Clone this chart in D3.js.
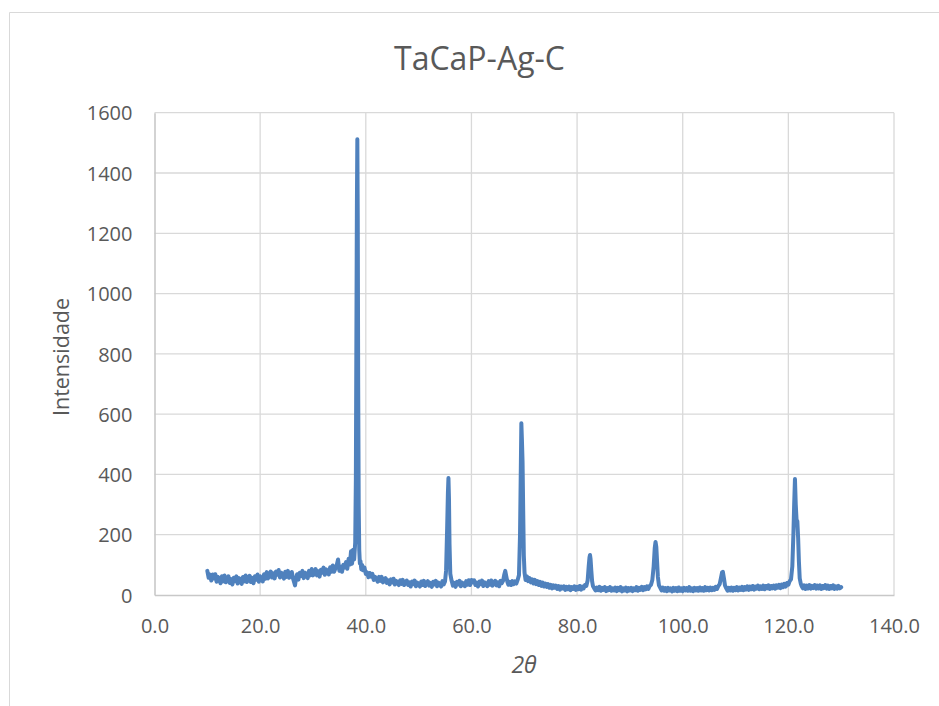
<!DOCTYPE html>
<html>
<head>
<meta charset="utf-8">
<script src="https://cdn.jsdelivr.net/npm/d3@7"></script>
<style>
  html, body { margin: 0; padding: 0; background: #fff; }
  svg { display: block; }
</style>
</head>
<body>
<svg id="chart" width="939" height="706"></svg>
<script>
// dados
const chartTitle = "TaCaP-Ag-C";
const xLabel = "2θ";
const yLabel = "Intensidade";
const xTicks = [0, 20, 40, 60, 80, 100, 120, 140];
const yTicks = [0, 200, 400, 600, 800, 1000, 1200, 1400, 1600];

// [2theta, intensidade]
const scan = [
  [10.00, 80], [10.25, 57], [10.50, 68], [10.75, 48], [11.00, 68], [11.25, 55], [11.50, 69], [11.75, 44],
  [12.00, 60], [12.25, 52], [12.50, 39], [12.75, 62], [13.00, 45], [13.25, 65], [13.50, 42], [13.75, 52],
  [14.00, 62], [14.25, 40], [14.50, 53], [14.75, 35], [15.00, 57], [15.25, 46], [15.50, 62], [15.75, 38],
  [16.00, 56], [16.25, 49], [16.50, 37], [16.75, 60], [17.00, 45], [17.25, 65], [17.50, 43], [17.75, 54],
  [18.00, 64], [18.25, 43], [18.50, 57], [18.75, 39], [19.00, 62], [19.25, 51], [19.50, 68], [19.75, 44],
  [20.00, 62], [20.25, 56], [20.50, 45], [20.75, 69], [21.00, 54], [21.25, 76], [21.50, 55], [21.75, 67],
  [22.00, 78], [22.25, 58], [22.50, 72], [22.75, 55], [23.00, 78], [23.25, 67], [23.50, 83], [23.75, 58],
  [24.00, 74], [24.25, 67], [24.50, 54], [24.75, 77], [25.00, 60], [25.25, 80], [25.50, 57], [25.75, 67],
  [26.00, 76], [26.25, 53], [26.50, 38], [26.60, 32], [26.75, 50], [27.00, 69], [27.25, 51], [27.50, 74],
  [27.75, 63], [28.00, 80], [28.25, 56], [28.50, 74], [28.75, 67], [29.00, 56], [29.25, 80], [29.50, 65],
  [29.75, 86], [30.00, 65], [30.25, 75], [30.50, 86], [30.75, 65], [31.00, 79], [31.25, 61], [31.50, 84],
  [31.75, 74], [32.00, 91], [32.25, 67], [32.50, 85], [32.75, 79], [33.00, 68], [33.25, 92], [33.50, 77],
  [33.75, 98], [34.00, 77], [34.25, 88], [34.50, 99], [34.75, 118], [35.00, 80], [35.25, 94], [35.50, 77],
  [35.75, 100], [36.00, 91], [36.25, 109], [36.50, 87], [36.75, 120], [37.00, 101], [37.20, 145],
  [37.40, 104], [37.60, 150], [37.80, 118], [38.00, 175], [38.12, 380], [38.22, 850], [38.32, 1300],
  [38.40, 1512], [38.48, 1250], [38.56, 700], [38.66, 300], [38.76, 150], [38.88, 105], [39.00, 112],
  [39.15, 85], [39.30, 100], [39.50, 82], [39.75, 91], [40.00, 70], [40.25, 75], [40.50, 59],
  [40.75, 73], [41.00, 61], [41.25, 70], [41.50, 50], [41.75, 60], [42.00, 53], [42.25, 44], [42.50, 60],
  [42.75, 47], [43.00, 60], [43.25, 42], [43.50, 49], [43.75, 56], [44.00, 40], [44.25, 49], [44.50, 35],
  [44.75, 52], [45.00, 42], [45.25, 54], [45.50, 35], [45.75, 47], [46.00, 41], [46.25, 33], [46.50, 49],
  [46.75, 37], [47.00, 50], [47.25, 33], [47.50, 41], [47.75, 48], [48.00, 33], [48.25, 42], [48.50, 28],
  [48.75, 45], [49.00, 36], [49.25, 48], [49.50, 29], [49.75, 41], [50.00, 36], [50.25, 28], [50.50, 45],
  [50.75, 33], [51.00, 47], [51.25, 30], [51.50, 38], [51.75, 46], [52.00, 31], [52.25, 40], [52.50, 27],
  [52.75, 44], [53.00, 35], [53.25, 47], [53.50, 29], [53.75, 41], [54.00, 36], [54.25, 28], [54.50, 46],
  [54.75, 35], [55.00, 45], [55.20, 80], [55.40, 220], [55.55, 340], [55.65, 388], [55.75, 320],
  [55.85, 170], [56.00, 70], [56.25, 47], [56.50, 31], [56.75, 40], [57.00, 27], [57.25, 44], [57.50, 35],
  [57.75, 47], [58.00, 29], [58.25, 41], [58.50, 36], [58.75, 29], [59.00, 46], [59.25, 34], [59.50, 49],
  [59.75, 33], [60.00, 50], [60.25, 42], [60.50, 49], [60.75, 33], [61.00, 41], [61.25, 28], [61.50, 45],
  [61.75, 36], [62.00, 48], [62.25, 30], [62.50, 42], [62.75, 37], [63.00, 29], [63.25, 46], [63.50, 34],
  [63.75, 48], [64.00, 31], [64.25, 39], [64.50, 47], [64.75, 32], [65.00, 42], [65.25, 29], [65.50, 47],
  [65.75, 39], [66.00, 48], [66.20, 66], [66.40, 80], [66.60, 62], [66.80, 44], [67.00, 34], [67.25, 44],
  [67.50, 33], [67.75, 46], [68.00, 36], [68.25, 45], [68.50, 38], [68.75, 50], [69.00, 66], [69.20, 200],
  [69.35, 420], [69.45, 570], [69.55, 520], [69.68, 440], [69.80, 280], [69.92, 130], [70.05, 75],
  [70.25, 50], [70.50, 62], [70.75, 46], [71.00, 56], [71.25, 42], [71.50, 52], [71.75, 38], [72.00, 50],
  [72.25, 36], [72.50, 46], [72.75, 33], [73.00, 44], [73.25, 30], [73.50, 41], [73.75, 28], [74.00, 38],
  [74.25, 27], [74.50, 36], [74.75, 24], [75.00, 34], [75.25, 22], [75.50, 32], [75.75, 24], [76.00, 31],
  [76.25, 20], [76.50, 30], [76.75, 18], [77.00, 28], [77.25, 22], [77.50, 29], [77.75, 17], [78.00, 27],
  [78.25, 19], [78.50, 28], [78.75, 16], [79.00, 26], [79.25, 20], [79.50, 29], [79.75, 17], [80.00, 27],
  [80.25, 19], [80.50, 30], [80.75, 18], [81.00, 28], [81.25, 22], [81.50, 33], [81.75, 30], [82.00, 48],
  [82.20, 95], [82.35, 125], [82.45, 133], [82.55, 120], [82.70, 80], [82.85, 45], [83.00, 30],
  [83.25, 22], [83.50, 15], [83.75, 25], [84.00, 16], [84.25, 27], [84.50, 14], [84.75, 24], [85.00, 17],
  [85.25, 26], [85.50, 13], [85.75, 23], [86.00, 16], [86.25, 26], [86.50, 14], [86.75, 22], [87.00, 15],
  [87.25, 25], [87.50, 13], [87.75, 24], [88.00, 16], [88.25, 26], [88.50, 12], [88.75, 22], [89.00, 15],
  [89.25, 25], [89.50, 12], [89.75, 23], [90.00, 15], [90.25, 24], [90.50, 13], [90.75, 22], [91.00, 16],
  [91.25, 26], [91.50, 14], [91.75, 24], [92.00, 17], [92.25, 27], [92.50, 16], [92.75, 26], [93.00, 19],
  [93.25, 29], [93.50, 20], [93.75, 30], [94.00, 34], [94.25, 50], [94.50, 95], [94.70, 155], [94.85, 176],
  [95.00, 160], [95.15, 110], [95.30, 60], [95.50, 32], [95.75, 24], [96.00, 15], [96.25, 25], [96.50, 14],
  [96.75, 23], [97.00, 13], [97.25, 24], [97.50, 15], [97.75, 22], [98.00, 12], [98.25, 24], [98.50, 14],
  [98.75, 23], [99.00, 13], [99.25, 25], [99.50, 14], [99.75, 22], [100.00, 13], [100.25, 24], [100.50, 15],
  [100.75, 23], [101.00, 14], [101.25, 26], [101.50, 14], [101.75, 22], [102.00, 13], [102.25, 24],
  [102.50, 15], [102.75, 23], [103.00, 14], [103.25, 25], [103.50, 15], [103.75, 23], [104.00, 14],
  [104.25, 26], [104.50, 16], [104.75, 24], [105.00, 15], [105.25, 25], [105.50, 16], [105.75, 24],
  [106.00, 17], [106.25, 27], [106.50, 20], [106.75, 30], [107.00, 36], [107.25, 58], [107.45, 75],
  [107.60, 77], [107.80, 56], [108.00, 32], [108.25, 22], [108.50, 14], [108.75, 24], [109.00, 15],
  [109.25, 25], [109.50, 14], [109.75, 24], [110.00, 16], [110.25, 26], [110.50, 15], [110.75, 25],
  [111.00, 17], [111.25, 27], [111.50, 16], [111.75, 26], [112.00, 18], [112.25, 29], [112.50, 17],
  [112.75, 28], [113.00, 19], [113.25, 30], [113.50, 18], [113.75, 28], [114.00, 21], [114.25, 31],
  [114.50, 19], [114.75, 29], [115.00, 20], [115.25, 31], [115.50, 19], [115.75, 30], [116.00, 22],
  [116.25, 32], [116.50, 20], [116.75, 30], [117.00, 22], [117.25, 31], [117.50, 21], [117.75, 32],
  [118.00, 24], [118.25, 34], [118.50, 23], [118.75, 35], [119.00, 26], [119.25, 37], [119.50, 28],
  [119.75, 40], [120.00, 34], [120.25, 46], [120.50, 52], [120.75, 95], [120.95, 200], [121.10, 300],
  [121.25, 385], [121.40, 300], [121.55, 250], [121.70, 245], [121.85, 190], [122.00, 110], [122.15, 55],
  [122.35, 38], [122.50, 30], [122.75, 22], [123.00, 32], [123.25, 20], [123.50, 31], [123.75, 22],
  [124.00, 33], [124.25, 21], [124.50, 30], [124.75, 23], [125.00, 33], [125.25, 21], [125.50, 31],
  [125.75, 22], [126.00, 32], [126.25, 20], [126.50, 30], [126.75, 23], [127.00, 33], [127.25, 21],
  [127.50, 31], [127.75, 20], [128.00, 30], [128.25, 22], [128.50, 32], [128.75, 20], [129.00, 29],
  [129.25, 21], [129.50, 30], [129.75, 22], [130.00, 26]
];

const svg = d3.select("#chart");
const txt = "#595959";
const font = "'Open Sans', sans-serif";

// moldura do gráfico
svg.append("path")
  .attr("d", "M9.5,706V12.5H939")
  .attr("fill", "none")
  .attr("stroke", "#d9d9d9")
  .attr("stroke-width", 1);

const x = d3.scaleLinear().domain([0, 140]).range([154.5, 894]);
const y = d3.scaleLinear().domain([0, 1600]).range([595, 112.7]);

// linhas de grade
svg.append("g").selectAll("line")
  .data(yTicks.filter(d => d > 0))
  .enter().append("line")
  .attr("x1", x(0)).attr("x2", x(140))
  .attr("y1", d => y(d)).attr("y2", d => y(d))
  .attr("stroke", "#d9d9d9").attr("stroke-width", 1.3);
svg.append("g").selectAll("line")
  .data(xTicks.filter(d => d > 0))
  .enter().append("line")
  .attr("x1", d => x(d)).attr("x2", d => x(d))
  .attr("y1", y(0)).attr("y2", y(1600))
  .attr("stroke", "#d9d9d9").attr("stroke-width", 1.3);

// eixos
const xAxis = svg.append("g")
  .attr("transform", "translate(0," + y(0) + ")")
  .call(d3.axisBottom(x).tickValues(xTicks).tickFormat(d3.format(".1f")).tickSize(0).tickPadding(24));
const yAxis = svg.append("g")
  .attr("transform", "translate(" + x(0) + ",0)")
  .call(d3.axisLeft(y).tickValues(yTicks).tickFormat(d3.format("d")).tickSize(0).tickPadding(22));

[xAxis, yAxis].forEach(function(a){
  a.select(".domain").attr("stroke", "#c8c8c8").attr("stroke-width", 1.6);
  a.selectAll("text")
    .attr("fill", txt)
    .attr("font-family", font)
    .attr("font-size", 20);
});
yAxis.selectAll("text").attr("dy", "0.36em");

// série
const line = d3.line().x(d => x(d[0])).y(d => y(d[1]));
svg.append("path")
  .datum(scan)
  .attr("d", line)
  .attr("fill", "none")
  .attr("stroke", "#4f81bd")
  .attr("stroke-width", 4)
  .attr("stroke-linejoin", "round")
  .attr("stroke-linecap", "round");

// textos
svg.append("text")
  .attr("x", 479.5).attr("y", 70)
  .attr("text-anchor", "middle")
  .attr("font-family", font).attr("font-size", 32)
  .attr("fill", txt)
  .text(chartTitle);

svg.append("text")
  .attr("x", 524).attr("y", 673)
  .attr("text-anchor", "middle")
  .attr("font-family", font).attr("font-size", 23).attr("font-style", "italic")
  .attr("fill", txt)
  .text(xLabel);

svg.append("text")
  .attr("transform", "translate(69,357) rotate(-90)")
  .attr("text-anchor", "middle")
  .attr("font-family", font).attr("font-size", 21.5)
  .attr("fill", txt)
  .text(yLabel);
</script>
</body>
</html>
